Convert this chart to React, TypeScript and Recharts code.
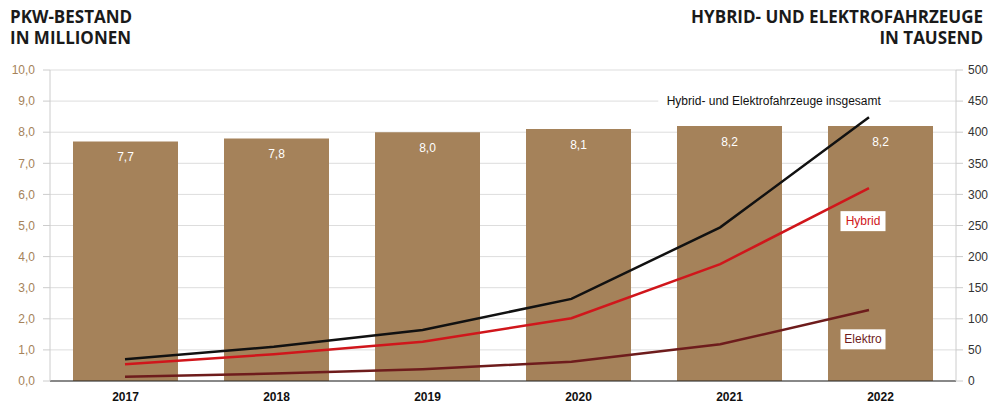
import React from "react";
import {
  ComposedChart,
  Bar,
  Line,
  XAxis,
  YAxis,
  CartesianGrid,
  LabelList,
  ReferenceDot,
} from "recharts";

const years = ["2017", "2018", "2019", "2020", "2021", "2022"];
const bestand = [7.7, 7.8, 8.0, 8.1, 8.2, 8.2];
const gesamt = [35, 55, 82, 132, 247, 424];
const hybrid = [27, 43, 63, 101, 188, 310];
const elektro = [7, 12, 19, 31, 59, 114];
const leftTicks = [0, 1, 2, 3, 4, 5, 6, 7, 8, 9, 10];
const rightTicks = [0, 50, 100, 150, 200, 250, 300, 350, 400, 450, 500];

const data = years.map((year, i) => ({
  year,
  idx: i,
  bestand: bestand[i],
  gesamt: gesamt[i],
  hybrid: hybrid[i],
  elektro: elektro[i],
}));

const BAR = "#a5825a";
const BLACK = "#111111";
const RED = "#d0161b";
const DARKRED = "#6e1c1c";
const FONT = "'Liberation Sans', Arial, sans-serif";
const TITLE_FONT = "'Open Sans', 'Noto Sans', sans-serif";

const fmt = (v: number) => v.toFixed(1).replace(".", ",");

function boxLabel(text: string, color: string, w: number, dx = 0) {
  return (props: any) => {
    const { cx, cy } = props;
    return (
      <g>
        <rect x={cx + dx - w / 2} y={cy - 10} width={w} height={20} fill="#fff" />
        <text
          x={cx + dx}
          y={cy}
          textAnchor="middle"
          dominantBaseline="central"
          fontSize={12}
          fontFamily={FONT}
          fill={color}
        >
          {text}
        </text>
      </g>
    );
  };
}

export default function App() {
  return (
    <div
      style={{
        position: "absolute",
        left: 0,
        top: 0,
        width: 989,
        height: 403,
        background: "#fff",
      }}
    >
      <div
        style={{
          position: "absolute",
          left: 10,
          top: 6,
          fontFamily: TITLE_FONT,
          fontWeight: 700,
          fontSize: 17,
          lineHeight: "21px",
          color: "#1a1a1a",
        }}
      >
        PKW-BESTAND
        <br />
        IN MILLIONEN
      </div>
      <div
        style={{
          position: "absolute",
          right: 6,
          top: 6,
          textAlign: "right",
          fontFamily: TITLE_FONT,
          fontWeight: 700,
          fontSize: 17,
          lineHeight: "21px",
          color: "#1a1a1a",
        }}
      >
        HYBRID- UND ELEKTROFAHRZEUGE
        <br />
        IN TAUSEND
      </div>
      <ComposedChart
        width={989}
        height={403}
        data={data}
        margin={{ top: 70, right: 0, bottom: 0, left: 0 }}
        style={{ position: "absolute", left: 0, top: 0 }}
      >
        <CartesianGrid
          vertical={false}
          stroke="#dddddd"
          xAxisId="bar"
          yAxisId="left"
        />
        <XAxis
          xAxisId="bar"
          dataKey="year"
          height={22}
          tickLine={false}
          tickSize={0}
          axisLine={{ stroke: "#222" }}
          tickMargin={11}
          tick={{ fontSize: 12, fontWeight: 700, fill: "#111", fontFamily: FONT }}
        />
        <XAxis
          xAxisId="line"
          dataKey="idx"
          type="number"
          domain={[0, 5]}
          padding={{ left: 75, right: 87 }}
          hide
        />
        <YAxis
          yAxisId="left"
          width={50}
          domain={[0, 10]}
          ticks={leftTicks}
          tickFormatter={fmt}
          tickSize={7}
          tickMargin={8}
          axisLine={{ stroke: "#cccccc" }}
          tickLine={{ stroke: "#cccccc" }}
          tick={{ fontSize: 12, fill: BAR, fontFamily: FONT }}
        />
        <YAxis
          yAxisId="right"
          orientation="right"
          width={33}
          domain={[0, 500]}
          ticks={rightTicks}
          tickSize={7}
          tickMargin={5}
          axisLine={{ stroke: "#cccccc" }}
          tickLine={{ stroke: "#cccccc" }}
          tick={{ fontSize: 12, fill: "#333", fontFamily: FONT, textAnchor: "start" }}
        />
        <Bar
          xAxisId="bar"
          yAxisId="left"
          dataKey="bestand"
          fill={BAR}
          barSize={105}
          isAnimationActive={false}
        >
          <LabelList
            dataKey="bestand"
            position="insideTop"
            offset={11}
            formatter={(v: any) => fmt(Number(v))}
            fill="#fff"
            fontSize={12}
            fontFamily={FONT}
          />
        </Bar>
        <Line
          xAxisId="line"
          yAxisId="right"
          dataKey="elektro"
          stroke={DARKRED}
          strokeWidth={2.5}
          dot={false}
          isAnimationActive={false}
        />
        <Line
          xAxisId="line"
          yAxisId="right"
          dataKey="hybrid"
          stroke={RED}
          strokeWidth={2.5}
          dot={false}
          isAnimationActive={false}
        />
        <Line
          xAxisId="line"
          yAxisId="right"
          dataKey="gesamt"
          stroke={BLACK}
          strokeWidth={2.5}
          dot={false}
          isAnimationActive={false}
        />
        <ReferenceDot
          xAxisId="line"
          yAxisId="right"
          x={4.36}
          y={450}
          r={0}
          shape={boxLabel("Hybrid- und Elektrofahrzeuge insgesamt", "#111", 231)}
        />
        <ReferenceDot
          xAxisId="line"
          yAxisId="right"
          x={5}
          y={257}
          r={0}
          shape={boxLabel("Hybrid", RED, 45, -6)}
        />
        <ReferenceDot
          xAxisId="line"
          yAxisId="right"
          x={5}
          y={67}
          r={0}
          shape={boxLabel("Elektro", DARKRED, 45, -6)}
        />
      </ComposedChart>
    </div>
  );
}
